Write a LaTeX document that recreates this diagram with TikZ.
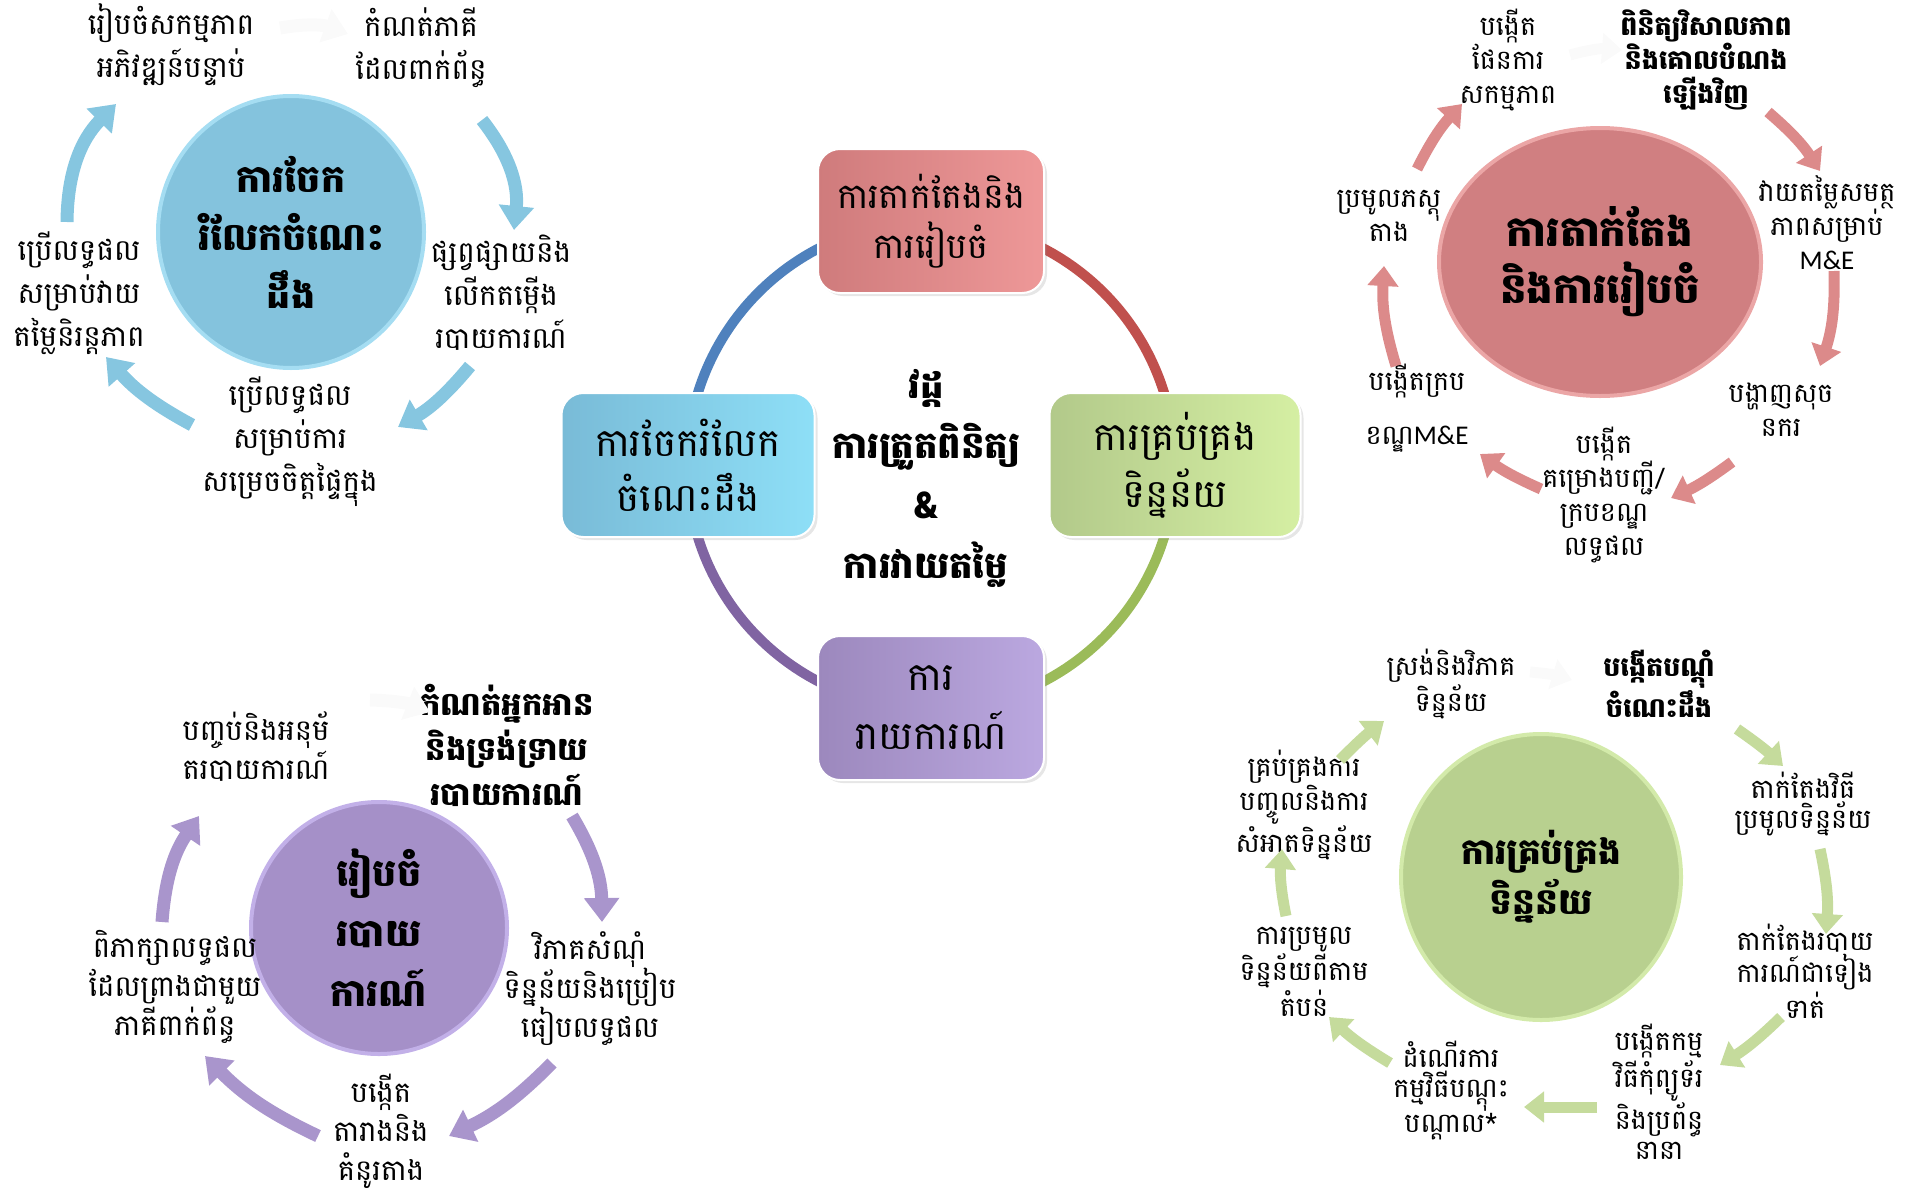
\documentclass[tikz,border=0pt]{standalone}
\usepackage{fontspec}
\usetikzlibrary{arrows.meta,shapes.geometric,shadows}
\newfontfamily\km[Script=Khmer]{Battambang}
\newfontfamily\lat{Carlito}
\definecolor{ringB}{HTML}{4F81BD}
\definecolor{ringR}{HTML}{C0504D}
\definecolor{ringG}{HTML}{9BBB59}
\definecolor{ringP}{HTML}{8064A2}
\definecolor{boxRa}{HTML}{CF7B7C}
\definecolor{boxRb}{HTML}{EE9898}
\definecolor{boxGa}{HTML}{B2C98A}
\definecolor{boxGb}{HTML}{D5EFA3}
\definecolor{boxPa}{HTML}{9C88BD}
\definecolor{boxPb}{HTML}{BBA8E0}
\definecolor{boxBa}{HTML}{79BBD7}
\definecolor{boxBb}{HTML}{8EDFF7}
\definecolor{cirB}{HTML}{84C3DD}
\definecolor{cirBr}{HTML}{A5DDF2}
\definecolor{cirR}{HTML}{D07F81}
\definecolor{cirRr}{HTML}{EBA6A6}
\definecolor{cirP}{HTML}{A590C8}
\definecolor{cirPr}{HTML}{C2B0E8}
\definecolor{cirG}{HTML}{B8D08F}
\definecolor{cirGr}{HTML}{D3EAAA}
\definecolor{arrB}{HTML}{86C6E0}
\definecolor{arrR}{HTML}{DC8A8A}
\definecolor{arrP}{HTML}{A995CC}
\definecolor{arrG}{HTML}{C5DB9C}
\definecolor{faint}{HTML}{FAFAFA}
\tikzset{
  box/.style={rounded corners=11pt, minimum height=72pt, align=center, inner sep=0pt,
    font=\km\fontsize{19.5}{28.5}\selectfont, draw=white, line width=1pt,
    drop shadow={opacity=0.2,shadow xshift=1.5pt,shadow yshift=-1.5pt}},
  cir/.style={ellipse, inner sep=0pt, align=center, line width=2pt,
    font=\km\bfseries\fontsize{19}{29}\selectfont},
  lblB/.style={align=center, inner sep=0pt, font=\km\fontsize{14.7}{21.5}\selectfont},
  lblR/.style={align=center, inner sep=0pt, font=\km\fontsize{13.5}{17}\selectfont},
  lblP/.style={align=center, inner sep=0pt, font=\km\fontsize{14.5}{19.5}\selectfont},
  lblG/.style={align=center, inner sep=0pt, font=\km\fontsize{13.5}{15}\selectfont},
  cyc/.style={line width=6.5pt, draw=#1, -{Triangle[width=17pt,length=12pt]}},
  cycs/.style={line width=5.5pt, draw=#1, -{Triangle[width=15pt,length=10pt]}},
  ring/.style={line width=5pt, draw=#1}
}
\begin{document}
\begin{tikzpicture}[x=0.5pt,y=-0.5pt]
\useasboundingbox (0,0) rectangle (1915,1194);

% ---------------- centre cycle ----------------
\coordinate (ctr) at (931,465);
\draw[ring=ringB] (ctr) ++(-105:244) arc[start angle=-105, end angle=-165, radius=244];
\draw[ring=ringR] (ctr) ++(-15:244) arc[start angle=-15, end angle=-75, radius=244];
\draw[ring=ringG] (ctr) ++(15:244) arc[start angle=15, end angle=75, radius=244];
\draw[ring=ringP] (ctr) ++(105:244) arc[start angle=105, end angle=165, radius=244];

\node[box, minimum width=113pt, left color=boxRa, right color=boxRb, font=\km\fontsize{17.5}{25}\selectfont] (bxR) at (931,221) {ការតាក់តែងនិង\\ការរៀបចំ};
\node[box, minimum width=125.5pt, left color=boxGa, right color=boxGb] (bxG) at (1175,465) {ការគ្រប់គ្រង\\ទិន្នន័យ};
\node[box, minimum width=113pt, left color=boxPa, right color=boxPb, font=\km\fontsize{19.5}{29.5}\selectfont] (bxP) at (931,708) {ការ\\រាយការណ៍};
\node[box, minimum width=126.5pt, left color=boxBa, right color=boxBb, font=\km\fontsize{19.5}{27.5}\selectfont] (bxB) at (688,465) {ការចែករំលែក\\ចំណេះដឹង};
\node[align=center, inner sep=0pt, font=\km\bfseries\fontsize{18.5}{30}\selectfont] (mid) at (926,478) {វដ្ត\\ការត្រួតពិនិត្យ\\\&\\ការវាយតម្លៃ};

% ---------------- blue cluster (top left) ----------------
\node[cir, minimum width=133pt, minimum height=136pt, fill=cirB, draw=cirBr] (cB) at (291,232) {ការចែក\\រំលែកចំណេះ\\ដឹង};
\node[lblB] (b1) at (171,45) {រៀបចំសកម្មភាព\\អភិវឌ្ឍន៍បន្ទាប់};
\node[lblB] (b2) at (421,48) {កំណត់ភាគី\\ដែលពាក់ព័ន្ធ};
\node[lblB] (b3) at (501,293) {ផ្សព្វផ្សាយនិង\\លើកតម្កើង\\របាយការណ៍};
\node[lblB] (b4) at (290,442) {ប្រើលទ្ធផល\\សម្រាប់ការ\\សម្រេចចិត្តផ្ទៃក្នុង};
\node[lblB] (b5) at (79,293) {ប្រើលទ្ធផល\\សម្រាប់វាយ\\តម្លៃនិរន្តភាព};
\coordinate (ba1) at (67,222);  \coordinate (ba2) at (116,104);
\coordinate (ba3) at (482,120); \coordinate (ba4) at (514,230);
\coordinate (ba5) at (470,366); \coordinate (ba6) at (398,427);
\coordinate (ba7) at (192,425); \coordinate (ba8) at (106,357);
\coordinate (ba9) at (280,28);  \coordinate (ba10) at (348,34);
\draw[cyc=arrB] (ba1) to[bend left=22] (ba2);
\draw[cyc=arrB] (ba3) to[bend left=22] (ba4);
\draw[cyc=arrB] (ba5) to[bend left=10] (ba6);
\draw[cyc=arrB] (ba7) to[bend left=10] (ba8);
\draw[cyc=faint] (ba9) to[bend left=15] (ba10);

% ---------------- red cluster (top right) ----------------
\node[cir, minimum width=161pt, minimum height=134pt, fill=cirR, draw=cirRr, font=\km\bfseries\fontsize{21}{28.5}\selectfont] (cR) at (1600,262) {ការតាក់តែង\\និងការរៀបចំ};
\node[lblR] (r1) at (1508,60) {បង្កើត\\ផែនការ\\សកម្មភាព};
\node[lblR, font=\km\bfseries\fontsize{13.5}{17}\selectfont] (r2) at (1706,60) {ពិនិត្យវិសាលភាព\\និងគោលបំណង\\ឡើងវិញ};
\node[lblR] (r3) at (1827,223) {វាយតម្លៃសមត្ថ\\ភាពសម្រាប់\\{\lat M\&E}};
\node[lblR] (r4) at (1781,410) {បង្ហាញសុច\\នករ};
\node[lblR] (r5) at (1604,495) {បង្កើត\\គម្រោងបញ្ជី/\\ក្របខណ្ឌ\\លទ្ធផល};
\node[lblR, font=\km\fontsize{13.5}{27}\selectfont] (r6) at (1417,408) {បង្កើតក្រប\\ខណ្ឌ{\lat M\&E}};
\node[lblR] (r7) at (1389,216) {ប្រមូលភស្តុ\\តាង};
\coordinate (ra1) at (1768,112);  \coordinate (ra2) at (1820,171);
\coordinate (ra3) at (1834,271);  \coordinate (ra4) at (1820,366);
\coordinate (ra5) at (1732,462);  \coordinate (ra6) at (1671,498);
\coordinate (ra7) at (1541,489);  \coordinate (ra8) at (1480,454);
\coordinate (ra9) at (1396,366);  \coordinate (ra10) at (1384,266);
\coordinate (ra11) at (1417,169); \coordinate (ra12) at (1462,104);
\coordinate (ra13) at (1570,55);  \coordinate (ra14) at (1622,50);
\draw[cycs=arrR] (ra1) to[bend left=8] (ra2);
\draw[cycs=arrR] (ra3) to[bend left=10] (ra4);
\draw[cycs=arrR] (ra5) to[bend left=6] (ra6);
\draw[cycs=arrR] (ra7) to[bend left=6] (ra8);
\draw[cycs=arrR] (ra9) to[bend left=10] (ra10);
\draw[cycs=arrR] (ra11) to[bend left=8] (ra12);
\draw[cycs=faint] (ra13) to[bend left=10] (ra14);

% ---------------- purple cluster (bottom left) ----------------
\node[cir, minimum width=128pt, minimum height=126pt, fill=cirP, draw=cirPr, font=\km\bfseries\fontsize{19}{30}\selectfont] (cP) at (379,928) {រៀបចំ\\របាយ\\ការណ៍};
\node[lblP] (p1) at (256,747) {បញ្ចប់និងអនុម័\\តរបាយការណ៍};
\node[lblP, font=\km\bfseries\fontsize{16}{22.5}\selectfont] (p2) at (507,745) {កំណត់អ្នកអាន\\និងទ្រង់ទ្រាយ\\របាយការណ៍};
\node[lblP] (p3) at (590,989) {វិភាគសំណុំ\\ទិន្នន័យនិងប្រៀប\\ធៀបលទ្ធផល};
\node[lblP] (p4) at (381,1131) {បង្កើត\\តារាងនិង\\គំនូរតាង};
\node[lblP] (p5) at (175,987) {ពិភាក្សាលទ្ធផល\\ដែលព្រាងជាមួយ\\ភាគីពាក់ព័ន្ធ};
\coordinate (pa1) at (162,922);  \coordinate (pa2) at (199,816);
\coordinate (pa3) at (572,816);  \coordinate (pa4) at (602,922);
\coordinate (pa5) at (552,1063); \coordinate (pa6) at (449,1136);
\coordinate (pa7) at (318,1136); \coordinate (pa8) at (205,1056);
\coordinate (pa9) at (370,700);  \coordinate (pa10) at (430,712);
\draw[cyc=arrP] (pa1) to[bend left=15] (pa2);
\draw[cyc=arrP] (pa3) to[bend left=15] (pa4);
\draw[cyc=arrP] (pa5) to[bend left=10] (pa6);
\draw[cyc=arrP] (pa7) to[bend left=10] (pa8);
\draw[cyc=faint] (pa9) to[bend left=10] (pa10);

% ---------------- green cluster (bottom right) ----------------
\node[cir, minimum width=140pt, minimum height=143pt, fill=cirG, draw=cirGr, font=\km\bfseries\fontsize{18}{25}\selectfont] (cG) at (1541,877) {ការគ្រប់គ្រង\\ទិន្នន័យ};
\node[lblG] (g1) at (1451,684) {ស្រង់និងវិភាគ\\ទិន្នន័យ};
\node[lblG, font=\km\bfseries\fontsize{13.5}{15}\selectfont] (g2) at (1659,684) {បង្កើតបណ្ដុំ\\ចំណេះដឹង};
\node[lblG] (g3) at (1803,804) {តាក់តែងវិធី\\ប្រមូលទិន្នន័យ};
\node[lblG] (g4) at (1805,971) {តាក់តែងរបាយ\\ការណ៍ជាទៀង\\ទាត់};
\node[lblG] (g5) at (1659,1092) {បង្កើតកម្ម\\វិធីកុំព្យូទ័រ\\និងប្រព័ន្ធ\\នានា};
\node[lblG] (g6) at (1451,1090) {ដំណើរការ\\កម្មវិធីបណ្ដុះ\\បណ្ដាល*};
\node[lblG] (g7) at (1304,972) {ការប្រមូល\\ទិន្នន័យពីតាម\\តំបន់};
\node[lblG] (g8) at (1304,805) {គ្រប់គ្រងការ\\បញ្ចូលនិងការ\\សំអាតទិន្នន័យ};
\coordinate (ga1) at (1737,729);  \coordinate (ga2) at (1783,766);
\coordinate (ga3) at (1820,849);  \coordinate (ga4) at (1826,934);
\coordinate (ga5) at (1781,1017); \coordinate (ga6) at (1720,1065);
\coordinate (ga7) at (1597,1107); \coordinate (ga8) at (1524,1107);
\coordinate (ga9) at (1390,1063); \coordinate (ga10) at (1329,1017);
\coordinate (ga11) at (1286,916); \coordinate (ga12) at (1282,849);
\coordinate (ga13) at (1340,760); \coordinate (ga14) at (1384,721);
\coordinate (ga15) at (1530,672); \coordinate (ga16) at (1572,680);
\draw[cycs=arrG] (ga1) to[bend left=4] (ga2);
\draw[cycs=arrG] (ga3) to[bend left=8] (ga4);
\draw[cycs=arrG] (ga5) to[bend left=6] (ga6);
\draw[cycs=arrG] (ga7) to (ga8);
\draw[cycs=arrG] (ga9) to[bend left=6] (ga10);
\draw[cycs=arrG] (ga11) to[bend left=8] (ga12);
\draw[cycs=arrG] (ga13) to[bend left=4] (ga14);
\draw[cycs=faint] (ga15) to[bend left=6] (ga16);
\end{tikzpicture}
\end{document}
